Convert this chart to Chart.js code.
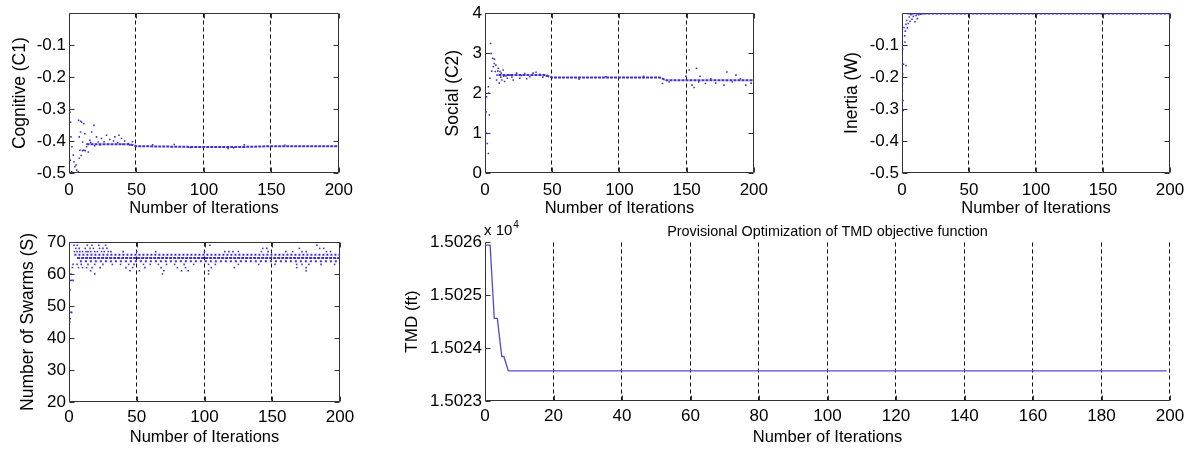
<!DOCTYPE html>
<html>
<head>
<meta charset="utf-8">
<script src="https://cdn.jsdelivr.net/npm/chart.js@4.4.0/dist/chart.umd.min.js"></script>
<style>
  body { margin: 0; background: #fff; width: 1195px; height: 450px; position: relative; overflow: hidden; }
  canvas { position: absolute; }
</style>
</head>
<body>
<canvas id="cog"></canvas>
<canvas id="soc"></canvas>
<canvas id="inr"></canvas>
<canvas id="swm"></canvas>
<canvas id="tmd"></canvas>
<script>
// ==================== DATA ====================
const iterTicks = [0, 50, 100, 150, 200];
const iterGrid = [50, 100, 150];
const tmdXTicks = [0, 20, 40, 60, 80, 100, 120, 140, 160, 180, 200];
const tmdGrid = [20, 40, 60, 80, 100, 120, 140, 160, 180, 200];

// Cognitive (C1)
const cogYTicks = [-0.5, -0.4, -0.3, -0.2, -0.1];
const cogBandX = [13, 45, 50, 100, 125, 150, 200];
const cogBandY = [-0.41, -0.41, -0.416, -0.419, -0.419, -0.416, -0.416];
const cogPtsX = [0.7, 0.5, 1.2, 1.5, 2.2, 3.2, 3.7, 4.4, 5.7, 6.9, 5.2, 2, 0.3, 1, 7.6, 8.1, 7.6, 8.6, 9.4, 7.1,
  8.6, 11, 11.8, 10.1, 11, 13, 14.3, 12, 9, 10, 15.5, 16.8, 18.5, 20.4, 21.6, 24.1, 27.8, 30.3, 34, 37.1,
  38.9, 41.3, 43.8, 13.5, 16, 19, 23, 26, 29, 33, 36, 40, 45, 47, 62, 78, 90, 118, 122, 130, 160];
const cogPtsY = [-0.31, -0.295, -0.341, -0.387, -0.418, -0.444, -0.465, -0.48, -0.491, -0.496, -0.475, -0.496, -0.5, -0.46, -0.454, -0.429, -0.387, -0.372, -0.341, -0.335,
  -0.338, -0.346, -0.377, -0.403, -0.429, -0.418, -0.434, -0.43, -0.445, -0.43, -0.398, -0.372, -0.351, -0.387, -0.403, -0.392, -0.382, -0.395, -0.387, -0.382,
  -0.392, -0.4, -0.408, -0.41, -0.405, -0.415, -0.412, -0.402, -0.41, -0.4, -0.405, -0.41, -0.412, -0.402, -0.412, -0.411, -0.42, -0.423, -0.421, -0.412, -0.413];

// Social (C2)
const socYTicks = [0, 1, 2, 3, 4];
const socBandX = [10, 45, 50, 130, 135, 200];
const socBandY = [2.45, 2.45, 2.39, 2.39, 2.32, 2.32];
const socPtsX = [0, 0.7, 1.7, 0.7, 2.5, 1.7, 1.2, 2.5, 3.2, 3.7, 2.7, 4.2, 4.6, 5.7, 6.2, 6.9, 7.6, 8.1, 8.6, 9,
  9.9, 10.6, 11.1, 11.8, 12.6, 13.6, 14.6, 15.6, 16.6, 18.5, 21, 23.5, 25.9, 29.6, 33.3, 35.8, 40.7, 45.7, 5, 7,
  9.5, 12, 14, 20, 27, 31, 38, 43, 70, 90, 118, 132, 137, 149.4, 151.9, 154, 155.6, 157.3, 159, 160,
  164, 168, 171.6, 177.8, 180, 184, 186.7, 190, 194, 198];
const socPtsY = [1.62, 1.53, 0.99, 1.0, 0.49, 0.74, 1.91, 2.16, 1.45, 2.37, 2.0, 3.24, 2.99, 2.87, 2.66, 2.74, 2.54, 2.7, 2.33, 2.45,
  2.62, 2.25, 2.54, 2.4, 2.33, 2.58, 2.29, 2.43, 2.37, 2.45, 2.33, 2.5, 2.37, 2.49, 2.41, 2.5, 2.47, 2.43, 2.55, 2.85,
  2.55, 2.5, 2.42, 2.4, 2.44, 2.36, 2.52, 2.4, 2.35, 2.41, 2.42, 2.24, 2.28, 2.42, 2.58, 2.2, 2.14, 2.62, 2.28, 2.42,
  2.24, 2.36, 2.25, 2.2, 2.53, 2.28, 2.45, 2.36, 2.2, 2.25];

// Inertia (W)
const inrYTicks = [-0.5, -0.4, -0.3, -0.2, -0.1];
const inrBandX = [4, 200];
const inrBandY = [-0.001, -0.001];
const inrPtsX = [0, 0, 0.5, 0.5, 0.3, 0.8, 1, 0.3, 1.5, 2, 2.5, 3, 3, 3.5, 4, 4.7, 5.5, 6, 6.7, 7.5,
  8.5, 9.7, 10.5, 11.5, 12.5, 14, 15.5, 2.2, 1.2, 0.6];
const inrPtsY = [-0.066, -0.102, -0.112, -0.221, -0.242, -0.273, -0.304, -0.386, -0.045, -0.071, -0.056, -0.164, -0.035, -0.023, -0.046, -0.032, -0.012, -0.025, -0.005, -0.019,
  -0.01, -0.027, -0.007, -0.017, -0.005, -0.003, -0.002, -0.09, -0.16, -0.19];

// Number of Swarms (S)
const swmYTicks = [20, 30, 40, 50, 60, 70];
const swmBand66X = [4, 200];
const swmBand66Y = [66, 66];
const swmBand65X = [6, 200];
const swmBand65Y = [65, 65];
const swmBand64X = [8, 200];
const swmBand64Y = [64, 64];
const swmPtsX = [0.5, 0.8, 1.5, 2, 0.7, 1, 2, 3, 1.5, 2.5, 3, 0.5, 1.5, 2.5, 3.5, 5, 7, 21,
  3.7, 6, 13.5, 17, 22, 27, 104, 183,
  5, 7.5, 12, 15.5, 18, 22.5, 25, 28, 143, 146, 170, 185, 188,
  4, 6, 8, 10, 12.5, 14, 16, 19, 21, 24, 26, 29, 31, 40, 50, 64, 100, 115, 118, 121, 125, 142, 147, 160, 165, 172, 175, 190, 193,
  6, 9, 14, 19, 25, 32, 38, 44, 48, 55, 60, 66, 72, 78, 85, 92, 103, 108, 125, 140, 152, 168, 172, 177, 186, 196,
  7, 10, 13, 17, 23, 42, 47, 56, 68, 80, 86, 105, 122, 168, 175,
  16, 45, 52, 70, 83, 88, 103, 175,
  19, 69, 103];
const swmPtsY = [45, 46, 48, 48, 55, 58, 58, 58, 60, 62, 63, 70, 70, 70, 70, 70, 70, 70,
  69, 69, 69, 69, 69, 69, 69, 69,
  68, 68, 68, 68, 68, 68, 68, 68, 68, 68, 68, 68, 68,
  67, 67, 67, 67, 67, 67, 67, 67, 67, 67, 67, 67, 67, 67, 67, 67, 67, 67, 67, 67, 67, 67, 67, 67, 67, 67, 67, 67, 67,
  63, 63, 63, 63, 63, 63, 63, 63, 63, 63, 63, 63, 63, 63, 63, 63, 63, 63, 63, 63, 63, 63, 63, 63, 63, 63,
  62, 62, 62, 62, 62, 62, 62, 62, 62, 62, 62, 62, 62, 62, 62,
  61, 61, 61, 61, 61, 61, 61, 61,
  60, 60, 60];

// TMD objective (x 10^4 ft)
const tmdYTicks = [1.5023, 1.5024, 1.5025, 1.5026];
const tmdX = [0, 1.5, 2.7, 3.6, 4.9, 5.5, 6.8, 199];
const tmdY = [1.502594, 1.502594, 1.502456, 1.502456, 1.502384, 1.502384, 1.502357, 1.502357];

// ==================== STYLE ====================
const DOT = '#4030cc';
const FONT = "'Liberation Sans', Arial, sans-serif";
Chart.defaults.font.family = FONT;
Chart.defaults.color = '#000';

const zip = (xs, ys) => xs.map((x, i) => ({ x, y: ys[i] }));

// box, dashed verticals and inward tick marks
const framePlugin = {
    id: 'frame',
    beforeDatasetsDraw(chart, args, o) {
        const { ctx, chartArea: a } = chart;
        const sx = chart.scales.x, sy = chart.scales.y;
        const L = Math.round(a.left) + 0.5, R = Math.round(a.right) - 0.5;
        const T = Math.round(a.top) + 0.5, B = Math.round(a.bottom) - 0.5;
        ctx.save();
        ctx.lineWidth = 1;
        ctx.strokeStyle = '#111';
        ctx.setLineDash([4, 3]);
        ctx.beginPath();
        o.gridX.forEach(v => {
            const px = Math.round(sx.getPixelForValue(v)) - 0.5;
            ctx.moveTo(px, T); ctx.lineTo(px, B);
        });
        ctx.stroke();
        ctx.setLineDash([]);
        ctx.strokeStyle = '#333';
        ctx.beginPath();
        ctx.moveTo(L, T); ctx.lineTo(L, B); ctx.lineTo(R, B);
        if (o.box) { ctx.lineTo(R, T); ctx.lineTo(L, T); }
        const tl = 5;
        sy.ticks.forEach(t => {
            const py = Math.round(sy.getPixelForValue(t.value)) + 0.5;
            ctx.moveTo(L, py); ctx.lineTo(L + tl, py);
            if (o.box) { ctx.moveTo(R, py); ctx.lineTo(R - tl, py); }
        });
        sx.ticks.forEach(t => {
            const px = Math.round(sx.getPixelForValue(t.value)) + 0.5;
            ctx.moveTo(px, B); ctx.lineTo(px, B - tl);
            if (o.box) { ctx.moveTo(px, T); ctx.lineTo(px, T + tl); }
        });
        ctx.stroke();
        if (o.expo) {
            ctx.fillStyle = '#000';
            ctx.textBaseline = 'alphabetic';
            ctx.font = '15px ' + FONT;
            ctx.fillText('x 10', a.left - 1, a.top - 7);
            const w = ctx.measureText('x 10').width;
            ctx.font = '10px ' + FONT;
            ctx.fillText('4', a.left - 1 + w + 1, a.top - 14);
        }
        ctx.restore();
    }
};

// ==================== PANELS ====================
function makePanel(id, box, cfg) {
    const cv = document.getElementById(id);
    cv.width = box.w; cv.height = box.h;
    cv.style.left = box.x + 'px';
    cv.style.top = box.y + 'px';

    const scales = {
        x: {
            type: 'linear', min: cfg.xMin, max: cfg.xMax,
            afterBuildTicks: s => { s.ticks = cfg.xTicks.map(v => ({ value: v })); },
            afterFit: s => { s.height = box.xH; },
            grid: { display: false, drawTicks: false }, border: { display: false },
            ticks: { padding: box.xtkPad, font: { size: 17 }, color: '#000', maxRotation: 0, autoSkip: false, callback: v => String(v) },
            title: { display: true, text: 'Number of Iterations', font: { size: 16.5 }, color: '#000', padding: { top: 0, bottom: box.xtPad } }
        },
        y: {
            type: 'linear', min: cfg.yMin, max: cfg.yMax,
            afterBuildTicks: s => { s.ticks = cfg.yTicks.map(v => ({ value: v })); },
            afterFit: s => { s.width = box.yW; },
            grid: { display: false, drawTicks: false }, border: { display: false },
            ticks: { padding: 3, font: { size: 17 }, color: '#000', autoSkip: false, callback: v => v.toFixed(cfg.yDec) },
            title: { display: true, text: cfg.yTitle, font: { size: cfg.yTitleSize || 17.5 }, color: '#000', padding: { top: box.ytPad, bottom: 0 } }
        }
    };
    if (cfg.title) {
        scales.x2 = {
            type: 'linear', position: 'top', min: 0, max: 1,
            afterFit: s => { s.height = box.topH; },
            grid: { display: false, drawTicks: false }, border: { display: false },
            ticks: { display: false },
            title: { display: true, text: cfg.title, font: { size: 14.4 }, color: '#000', padding: { top: box.ttPad, bottom: 0 } }
        };
    }

    return new Chart(cv.getContext('2d'), {
        type: 'scatter',
        data: { datasets: cfg.datasets },
        options: {
            responsive: false, animation: false, devicePixelRatio: 1,
            layout: { padding: box.pad },
            plugins: { legend: { display: false }, tooltip: { enabled: false }, frame: { gridX: cfg.gridX, box: cfg.box, expo: cfg.expo } },
            scales
        },
        plugins: [framePlugin]
    });
}

function dots(xs, ys) {
    return { type: 'scatter', data: zip(xs, ys), pointRadius: 1.1, pointBorderWidth: 0, backgroundColor: DOT, borderColor: DOT, pointStyle: 'rect' };
}
function band(xs, ys, dash) {
    return { type: 'line', data: zip(xs, ys), borderColor: DOT, borderWidth: 2, borderDash: dash, pointRadius: 0, fill: false, tension: 0 };
}

// ==================== INIT ====================
makePanel('cog', { x: 0, y: 0, w: 360, h: 225, yW: 69, xH: 52, xtkPad: 7, xtPad: 7, ytPad: 10, pad: { top: 13, right: 20, left: 0, bottom: 0 } }, {
    xMin: 0, xMax: 200, xTicks: iterTicks, gridX: iterGrid, box: true,
    yMin: -0.5, yMax: 0, yTicks: cogYTicks, yDec: 1, yTitle: 'Cognitive (C1)',
    datasets: [band(cogBandX, cogBandY, [3, 1]), dots(cogPtsX, cogPtsY)]
});

makePanel('soc', { x: 430, y: 0, w: 345, h: 225, yW: 55, xH: 52, xtkPad: 7, xtPad: 7, ytPad: 13, pad: { top: 13, right: 20, left: 0, bottom: 0 } }, {
    xMin: 0, xMax: 200, xTicks: iterTicks, gridX: iterGrid, box: true,
    yMin: 0, yMax: 4, yTicks: socYTicks, yDec: 0, yTitle: 'Social (C2)',
    datasets: [band(socBandX, socBandY, [3, 1]), dots(socPtsX, socPtsY)]
});

makePanel('inr', { x: 830, y: 0, w: 365, h: 225, yW: 72, xH: 52, xtkPad: 7, xtPad: 7, ytPad: 12, pad: { top: 13, right: 25, left: 0, bottom: 0 } }, {
    xMin: 0, xMax: 200, xTicks: iterTicks, gridX: iterGrid, box: true,
    yMin: -0.5, yMax: 0, yTicks: inrYTicks, yDec: 1, yTitle: 'Inertia (W)',
    datasets: [band(inrBandX, inrBandY, [3, 1]), dots(inrPtsX, inrPtsY)]
});

makePanel('swm', { x: 0, y: 225, w: 360, h: 225, yW: 69, xH: 48, xtkPad: 5, xtPad: 3, ytPad: 18, pad: { top: 17, right: 20, left: 0, bottom: 0 } }, {
    xMin: 0, xMax: 200, xTicks: iterTicks, gridX: iterGrid, box: true,
    yMin: 20, yMax: 70, yTicks: swmYTicks, yDec: 0, yTitle: 'Number of Swarms (S)',
    datasets: [
        band(swmBand66X, swmBand66Y, [2, 2]),
        band(swmBand65X, swmBand65Y, [3, 1]),
        band(swmBand64X, swmBand64Y, [2, 3]),
        dots(swmPtsX, swmPtsY)
    ]
});

makePanel('tmd', { x: 380, y: 215, w: 815, h: 235, yW: 105, xH: 49, topH: 27, xtkPad: 5, xtPad: 3, ytPad: 22, ttPad: 8, pad: { top: 0, right: 25, left: 0, bottom: 0 } }, {
    xMin: 0, xMax: 200, xTicks: tmdXTicks, gridX: tmdGrid, box: false, expo: true,
    title: 'Provisional Optimization of TMD objective function',
    yMin: 1.5023, yMax: 1.5026, yTicks: tmdYTicks, yDec: 4, yTitle: 'TMD (ft)', yTitleSize: 17,
    datasets: [{ type: 'line', data: zip(tmdX, tmdY), borderColor: '#5548d0', borderWidth: 1.3, pointRadius: 0, fill: false, tension: 0 }]
});
</script>
</body>
</html>
